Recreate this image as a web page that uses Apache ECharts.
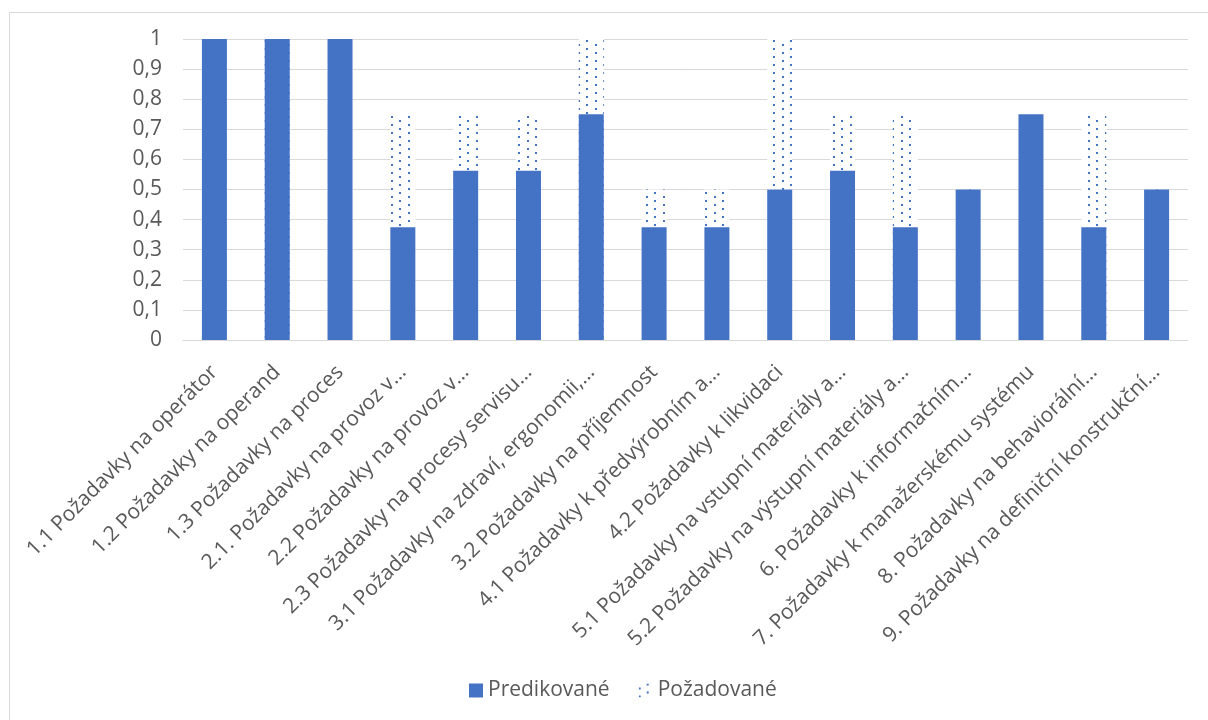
<!DOCTYPE html>
<html>
<head>
<meta charset="utf-8">
<script src="https://cdn.jsdelivr.net/npm/echarts@6/dist/echarts.min.js"></script>
<style>
  html, body { margin: 0; padding: 0; background: #ffffff; }
  #chart { width: 1208px; height: 720px; }
</style>
</head>
<body>
<div id="chart"></div>
<script>
// Requirement groups (axis labels as shown, shortened with an ellipsis)
const categories = [
  '1.1 Požadavky na operátor',
  '1.2 Požadavky na operand',
  '1.3 Požadavky na proces',
  '2.1. Požadavky na provoz v…',
  '2.2 Požadavky na provoz v…',
  '2.3 Požadavky na procesy servisu…',
  '3.1 Požadavky na zdraví, ergonomii,…',
  '3.2 Požadavky na příjemnost',
  '4.1 Požadavky k předvýrobním a…',
  '4.2 Požadavky k likvidaci',
  '5.1 Požadavky na vstupní materiály a…',
  '5.2 Požadavky na výstupní materiály a…',
  '6. Požadavky k informačním…',
  '7. Požadavky k manažerskému systému',
  '8. Požadavky na behaviorální…',
  '9. Požadavky na definiční konstrukční…'
];

// Predicted fulfilment
const predikovane = [1, 1, 1, 0.375, 0.5625, 0.5625, 0.75, 0.375, 0.375, 0.5, 0.5625, 0.375, 0.5, 0.75, 0.375, 0.5];
// Required level
const pozadovane = [1, 1, 1, 0.75, 0.75, 0.75, 1, 0.5, 0.5, 1, 0.75, 0.75, 0.5, 0.75, 0.75, 0.5];

// Value axis tick labels (decimal comma)
const yTickLabels = ['0', '0,1', '0,2', '0,3', '0,4', '0,5', '0,6', '0,7', '0,8', '0,9', '1'];

const seriesNames = ['Predikované', 'Požadované'];

const BLUE = '#4472C4';
const TEXT = '#595959';
const GRID = '#d9d9d9';
const FONT = '"Open Sans", "Noto Sans", sans-serif';
const FS = 21;

const chart = echarts.init(document.getElementById('chart'), null, { renderer: 'canvas' });

chart.setOption({
  backgroundColor: '#ffffff',
  animation: false,
  textStyle: { fontFamily: FONT },
  graphic: [{
    type: 'rect',
    left: 7, top: 10,
    shape: { width: 1230, height: 740 },
    style: { fill: null, stroke: GRID, lineWidth: 1 },
    silent: true, z: -10
  }],
  grid: { left: 183, right: 20, top: 39, bottom: 380, containLabel: false },
  legend: {
    data: [seriesNames[0], seriesNames[1]],
    left: 464,
    top: 675,
    icon: 'rect',
    itemWidth: 14,
    itemHeight: 14,
    itemGap: 29,
    textStyle: { fontSize: FS, color: TEXT, fontFamily: FONT }
  },
  xAxis: {
    type: 'category',
    data: categories,
    axisLine: { show: true, lineStyle: { color: GRID, width: 1 } },
    axisTick: { show: false },
    axisLabel: {
      rotate: 45,
      interval: 0,
      margin: 29,
      fontSize: FS,
      color: TEXT,
      fontFamily: FONT
    }
  },
  yAxis: {
    type: 'value',
    min: 0,
    max: 1,
    interval: 0.1,
    axisLine: { show: false },
    axisTick: { show: false },
    splitLine: { lineStyle: { color: GRID, width: 1 } },
    axisLabel: {
      margin: 21,
      fontSize: FS,
      color: TEXT,
      fontFamily: FONT,
      formatter: v => yTickLabels[Math.round(v * 10)]
    }
  },
  series: [
    {
      name: seriesNames[1],
      type: 'bar',
      data: pozadovane,
      barWidth: 25,
      barGap: '-100%',
      z: 2,
      itemStyle: {
        color: '#ffffff',
        decal: {
          symbol: 'rect',
          symbolSize: 1,
          color: BLUE,
          backgroundColor: null,
          dashArrayX: [[2, 15], [0, 8, 2, 7]],
          dashArrayY: [2, 2],
          rotation: 0
        }
      }
    },
    {
      name: seriesNames[0],
      type: 'bar',
      data: predikovane,
      barWidth: 25,
      barGap: '-100%',
      z: 3,
      itemStyle: { color: BLUE }
    }
  ]
});
</script>
</body>
</html>
